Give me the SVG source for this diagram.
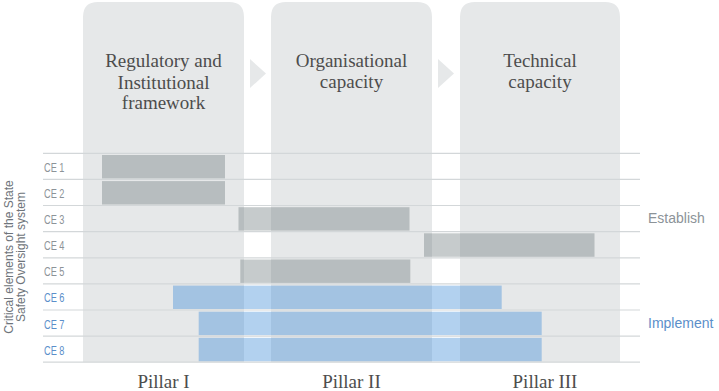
<svg xmlns="http://www.w3.org/2000/svg" width="719" height="391" viewBox="0 0 719 391">
<defs>
<style>
.col{fill:#e6e8e9}
.title{font-family:"Liberation Serif","DejaVu Serif",serif;font-size:19px;fill:#4d4d4d;text-anchor:middle}
.pillar{font-family:"Liberation Serif","DejaVu Serif",serif;font-size:19px;fill:#4d4d4d;text-anchor:middle}
.sep{stroke:#d3d7d9;stroke-width:1.2;fill:none}
.ce{font-family:"Liberation Sans","DejaVu Sans",sans-serif;font-size:12.5px;fill:#8c9398}
.ceb{font-family:"Liberation Sans","DejaVu Sans",sans-serif;font-size:12.5px;fill:#5b8fca}
.gbar{fill:#707c80;fill-opacity:0.4}
.bbar{fill:#3e8bd7;fill-opacity:0.4}
.side{font-family:"Liberation Sans","DejaVu Sans",sans-serif;font-size:12px;fill:#6e747a;text-anchor:middle}
.tri{fill:#e6e8e9}
</style>
</defs>
<rect width="719" height="391" fill="#ffffff"/>

<g id="pillar1">
<path class="col" d="M83 362.2V17Q83 2 98 2H229Q244 2 244 17V362.2Z"/>
<text class="title" x="163.5" y="67">Regulatory and</text>
<text class="title" x="163.5" y="88.5">Institutional</text>
<text class="title" x="163.5" y="109">framework</text>
<text class="pillar" x="163.5" y="388">Pillar I</text>
</g>
<g id="pillar2">
<path class="col" d="M271 362.2V17Q271 2 286 2H417Q432 2 432 17V362.2Z"/>
<text class="title" x="351.5" y="67">Organisational</text>
<text class="title" x="351.5" y="88">capacity</text>
<text class="pillar" x="351.5" y="388">Pillar II</text>
</g>
<g id="pillar3">
<path class="col" d="M460 362.2V17Q460 2 475 2H605Q620 2 620 17V362.2Z"/>
<text class="title" x="540" y="67">Technical</text>
<text class="title" x="540" y="88">capacity</text>
<text class="pillar" x="545" y="388">Pillar III</text>
</g>

<g id="connectors">
<polygon class="tri" points="250,59 266,73.5 250,88"/>
<polygon class="tri" points="438,59 454,73.5 438,88"/>
</g>

<g id="rows">
<line class="sep" x1="43" y1="153.3" x2="640" y2="153.3"/>
<line class="sep" x1="43" y1="179.4" x2="640" y2="179.4"/>
<line class="sep" x1="43" y1="205.5" x2="640" y2="205.5"/>
<line class="sep" x1="43" y1="231.6" x2="640" y2="231.6"/>
<line class="sep" x1="43" y1="257.8" x2="640" y2="257.8"/>
<line class="sep" x1="43" y1="283.9" x2="640" y2="283.9"/>
<line class="sep" x1="43" y1="310" x2="640" y2="310"/>
<line class="sep" x1="43" y1="336.1" x2="640" y2="336.1"/>
<line class="sep" x1="43" y1="362.2" x2="640" y2="362.2"/>
</g>

<g id="ce1"><text class="ce" x="44" y="172" textLength="20.5" lengthAdjust="spacingAndGlyphs">CE 1</text><rect class="gbar" x="102" y="155" width="123" height="23.4"/></g>
<g id="ce2"><text class="ce" x="44" y="198" textLength="20.5" lengthAdjust="spacingAndGlyphs">CE 2</text><rect class="gbar" x="102" y="181.1" width="123" height="23.4"/></g>
<g id="ce3"><text class="ce" x="44" y="224" textLength="20.5" lengthAdjust="spacingAndGlyphs">CE 3</text><rect class="gbar" x="238.5" y="207.2" width="171" height="23.4"/></g>
<g id="ce4"><text class="ce" x="44" y="250.2" textLength="20.5" lengthAdjust="spacingAndGlyphs">CE 4</text><rect class="gbar" x="424" y="233.3" width="170.5" height="23.5"/></g>
<g id="ce5"><text class="ce" x="44" y="276.3" textLength="20.5" lengthAdjust="spacingAndGlyphs">CE 5</text><rect class="gbar" x="240.3" y="259.5" width="170" height="23.4"/></g>
<g id="ce6"><text class="ceb" x="44" y="302.4" textLength="20.5" lengthAdjust="spacingAndGlyphs">CE 6</text><rect class="bbar" x="173" y="285.6" width="328.7" height="23.4"/></g>
<g id="ce7"><text class="ceb" x="44" y="328.5" textLength="20.5" lengthAdjust="spacingAndGlyphs">CE 7</text><rect class="bbar" x="198.7" y="311.7" width="343" height="23.4"/></g>
<g id="ce8"><text class="ceb" x="44" y="354.6" textLength="20.5" lengthAdjust="spacingAndGlyphs">CE 8</text><rect class="bbar" x="198.7" y="337.8" width="343" height="23.4"/></g>

<g id="axis-label">
<text class="side" transform="translate(12.5,257) rotate(-90)">Critical elements of the State</text>
<text class="side" transform="translate(25,257) rotate(-90)">Safety Oversight system</text>
</g>

<g id="legend">
<text x="648" y="223" font-family="Liberation Sans, DejaVu Sans, sans-serif" font-size="14" fill="#8c9398">Establish</text>
<text x="648" y="328" font-family="Liberation Sans, DejaVu Sans, sans-serif" font-size="14" fill="#5b8fca">Implement</text>
</g>
</svg>
